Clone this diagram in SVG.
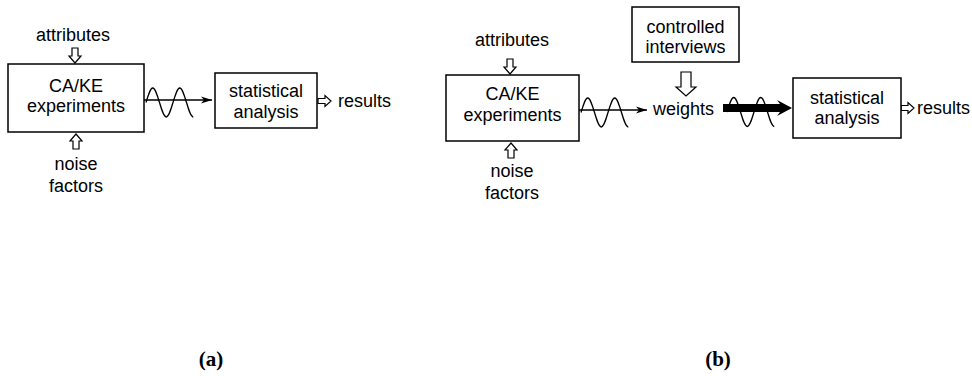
<svg xmlns="http://www.w3.org/2000/svg" xmlns:xlink="http://www.w3.org/1999/xlink" width="972" height="376" viewBox="0 0 972 376">
<style>
.box{fill:#fff;stroke:#000;stroke-width:1.5}
.t{font-family:"Liberation Sans",Arial,sans-serif;font-size:18px;fill:#000;text-anchor:middle}
.lbl{font-family:"Liberation Serif","Times New Roman",serif;font-size:21px;font-weight:bold;fill:#000;text-anchor:middle}
.ln{fill:none;stroke:#000;stroke-width:1.3}
.wave{fill:none;stroke:#000;stroke-width:1.3}
.hol{fill:#fff;stroke:#000;stroke-width:1.2;stroke-linejoin:miter}
</style>
<defs>
<marker id="ah" markerUnits="userSpaceOnUse" markerWidth="12" markerHeight="8" refX="11" refY="4" orient="auto">
<path d="M0,0.5 L11,4 L0,7.5 L3,4 z" fill="#000"/>
</marker>
<path id="wv" d="M0,0 c2.26,-7.61 4.3,-14.5 6.75,-14.5 c2.45,0 4.49,6.89 6.75,14.5 c2.26,7.61 4.3,14.5 6.75,14.5 c2.45,0 4.49,-6.89 6.75,-14.5 c2.26,-7.61 4.3,-14.5 6.75,-14.5 c2.45,0 4.49,6.89 6.75,14.5 c2.26,7.61 4.3,14.5 6.75,14.5"/>
<polygon id="hs" points="-3,0 3,0 3,8 6,8 0,15 -6,8 -3,8"/>
<polygon id="hr" points="0,-2.5 7,-2.5 7,-5.5 13,0 7,5.5 7,2.5 0,2.5"/>
<polygon id="hb" points="-5,0 5,0 5,15 10,15 0,24 -10,15 -5,15"/>
</defs>

<g id="connectors">
<!-- panel a -->
<use xlink:href="#hs" class="hol" transform="translate(75,48)"/>
<use xlink:href="#hs" class="hol" transform="translate(76,149) rotate(180)"/>
<line x1="144" y1="100" x2="212" y2="100" class="ln" marker-end="url(#ah)"/>
<use xlink:href="#wv" class="wave" transform="translate(146,102.5)"/>
<use xlink:href="#hr" class="hol" transform="translate(318,101)"/>
<!-- panel b -->
<use xlink:href="#hs" class="hol" transform="translate(510,59)"/>
<use xlink:href="#hs" class="hol" transform="translate(511,158) rotate(180)"/>
<line x1="579" y1="110" x2="647" y2="110" class="ln" marker-end="url(#ah)"/>
<use xlink:href="#wv" class="wave" transform="translate(581,112.5)"/>
<use xlink:href="#hb" class="hol" transform="translate(686,72)"/>
<polygon points="723,104 780,104 777,100 792,108 777,116 780,112 723,112" fill="#000"/>
<use xlink:href="#wv" class="wave" transform="translate(727,112)"/>
<use xlink:href="#hr" class="hol" transform="translate(901,108)"/>
</g>

<g id="a-attributes"><text x="73" y="41" class="t">attributes</text></g>
<g id="a-experiments">
<rect x="8" y="64" width="136" height="68" class="box"/>
<text x="76" y="92" class="t">CA/KE</text>
<text x="76" y="112" class="t">experiments</text>
</g>
<g id="a-noise"><text x="76" y="170" class="t">noise</text><text x="76" y="192" class="t">factors</text></g>
<g id="a-analysis">
<rect x="215" y="73" width="102" height="55" class="box"/>
<text x="266" y="97" class="t">statistical</text>
<text x="266" y="118" class="t">analysis</text>
</g>
<g id="a-results"><text x="338" y="107" class="t" style="text-anchor:start">results</text></g>

<g id="b-attributes"><text x="512" y="46" class="t">attributes</text></g>
<g id="b-experiments">
<rect x="446" y="75" width="133" height="66" class="box"/>
<text x="512.5" y="100" class="t">CA/KE</text>
<text x="512.5" y="121" class="t">experiments</text>
</g>
<g id="b-noise"><text x="512" y="177" class="t">noise</text><text x="512" y="199" class="t">factors</text></g>
<g id="b-interviews">
<rect x="632" y="7" width="107" height="55" class="box"/>
<text x="685.5" y="33" class="t">controlled</text>
<text x="685.5" y="53" class="t">interviews</text>
</g>
<g id="b-weights"><text x="683.5" y="115" class="t">weights</text></g>
<g id="b-analysis">
<rect x="793" y="78" width="108" height="60" class="box"/>
<text x="847" y="104" class="t">statistical</text>
<text x="847" y="124" class="t">analysis</text>
</g>
<g id="b-results"><text x="917" y="114" class="t" style="text-anchor:start">results</text></g>

<g id="labels">
<text x="211" y="366" class="lbl">(a)</text>
<text x="718" y="366" class="lbl">(b)</text>
</g>
</svg>
